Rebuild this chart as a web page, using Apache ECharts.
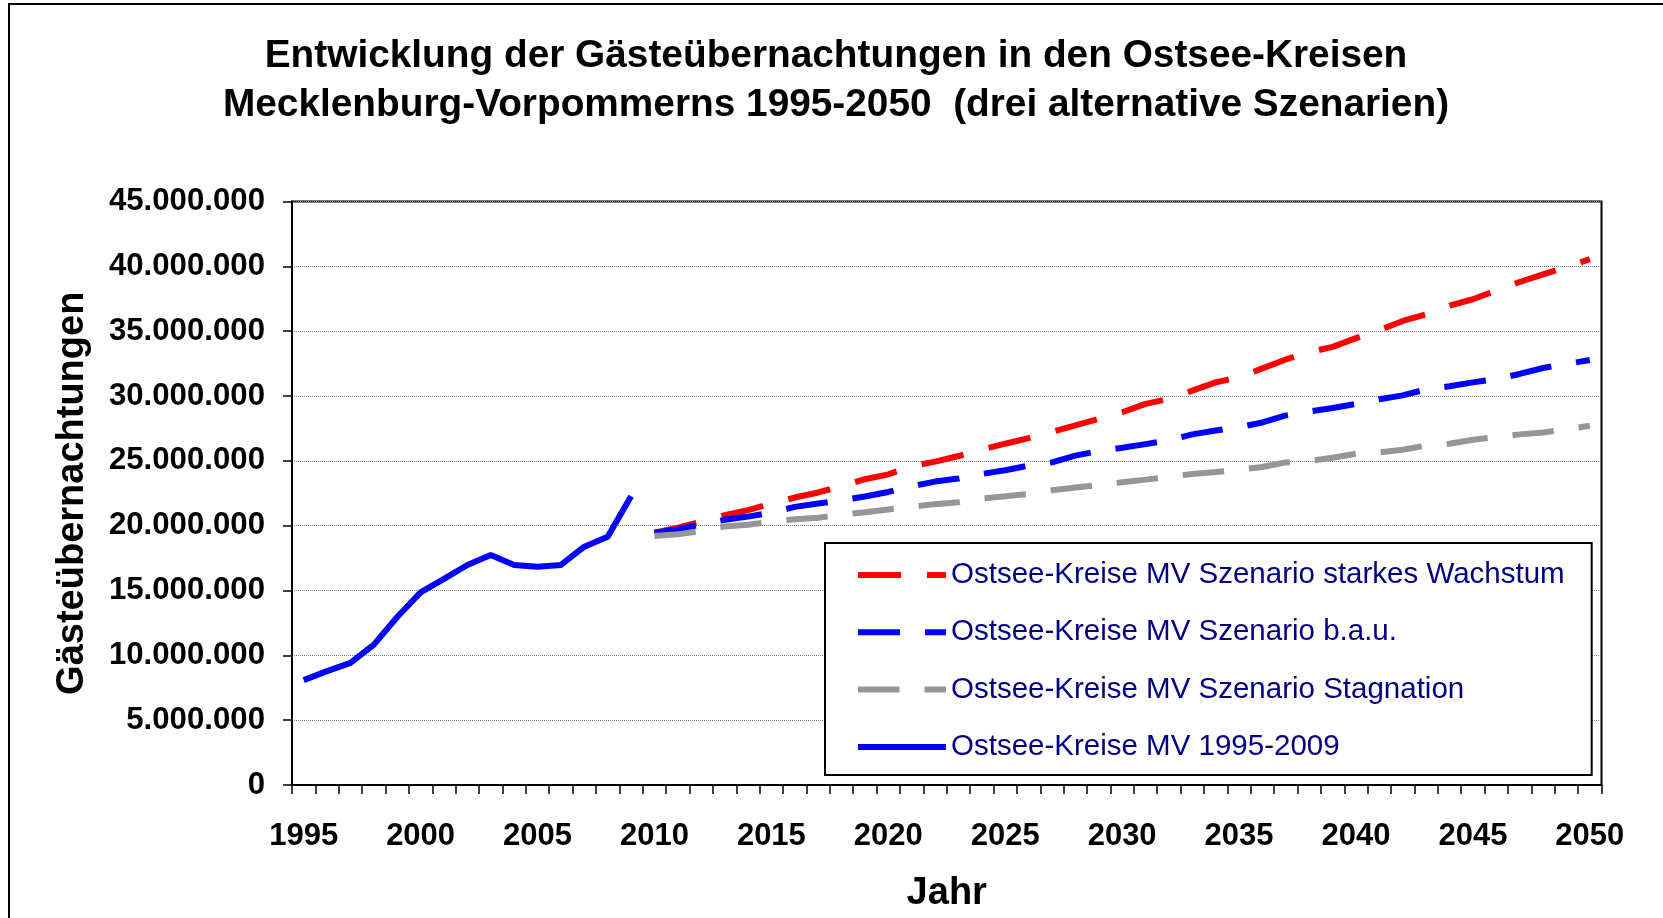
<!DOCTYPE html>
<html>
<head>
<meta charset="utf-8">
<title>Gästeübernachtungen Ostsee-Kreise MV</title>
<script src="https://cdn.jsdelivr.net/npm/echarts@6/dist/echarts.min.js"></script>
<style>
  html, body { margin: 0; padding: 0; background: #fff; }
  #chart { width: 1663px; height: 918px; }
</style>
</head>
<body>
<div id="chart"></div>
<script>
// Jahre (Kategorien)
var years = ['1995', '1996', '1997', '1998', '1999', '2000', '2001', '2002', '2003', '2004',
  '2005', '2006', '2007', '2008', '2009', '2010', '2011', '2012', '2013', '2014',
  '2015', '2016', '2017', '2018', '2019', '2020', '2021', '2022', '2023', '2024',
  '2025', '2026', '2027', '2028', '2029', '2030', '2031', '2032', '2033', '2034',
  '2035', '2036', '2037', '2038', '2039', '2040', '2041', '2042', '2043', '2044',
  '2045', '2046', '2047', '2048', '2049', '2050']

// Ist-Werte 1995-2009
var istWerte = [8090000, 8780000, 9420000, 10830000, 12960000, 14850000, 15900000, 16970000,
  17740000, 16970000, 16840000, 16970000, 18380000, 19150000, 22270000]

// Szenarien 2010-2050
var starkesWachstum = [19450000, 19840000, 20300000, 20810000, 21200000, 21700000, 22170000,
  22560000, 23050000, 23580000, 23960000, 24580000, 24940000, 25370000, 25860000, 26320000,
  26750000, 27240000, 27730000, 28240000, 28750000, 29390000, 29780000, 30410000, 31050000,
  31440000, 32130000, 32820000, 33380000, 33790000, 34460000, 35080000, 35790000, 36300000,
  36970000, 37460000, 38150000, 38790000, 39380000, 39940000, 40550000]
var bau = [19450000, 19710000, 20100000, 20450000, 20700000, 21000000, 21450000, 21710000,
  21950000, 22250000, 22600000, 23040000, 23400000, 23630000, 23990000, 24270000, 24630000,
  24880000, 25400000, 25750000, 26010000, 26290000, 26570000, 27040000, 27340000, 27600000,
  27960000, 28500000, 28800000, 29080000, 29390000, 29750000, 30050000, 30510000, 30750000,
  31050000, 31310000, 31700000, 32160000, 32470000, 32770000]
var stagnation = [19200000, 19330000, 19600000, 19940000, 20070000, 20300000, 20500000, 20610000,
  20850000, 21040000, 21250000, 21450000, 21660000, 21810000, 22100000, 22270000, 22450000,
  22730000, 22940000, 23140000, 23350000, 23550000, 23760000, 23990000, 24140000, 24320000,
  24520000, 24880000, 24990000, 25240000, 25550000, 25650000, 25860000, 26170000, 26320000,
  26630000, 26830000, 27040000, 27190000, 27440000, 27700000]

var seriesNames = [
  'Ostsee-Kreise MV Szenario starkes Wachstum',
  'Ostsee-Kreise MV Szenario b.a.u.',
  'Ostsee-Kreise MV Szenario Stagnation',
  'Ostsee-Kreise MV 1995-2009'
]

var leer = new Array(15).fill(null)
var font = 'Liberation Sans, Arial, Helvetica, sans-serif'

function tausender(v) {
  return String(v).replace(/\B(?=(\d{3})+(?!\d))/g, '.')
}

var chart = echarts.init(document.getElementById('chart'))
chart.setOption({
  animation: false,
  backgroundColor: '#fff',
  textStyle: { fontFamily: font },
  graphic: [{
    type: 'rect',
    shape: { x: 9, y: 4, width: 1700, height: 1000 },
    style: { fill: 'none', stroke: '#000', lineWidth: 2 },
    silent: true
  }],
  title: {
    text: 'Entwicklung der Gästeübernachtungen in den Ostsee-Kreisen\nMecklenburg-Vorpommerns 1995-2050  (drei alternative Szenarien)',
    left: 836,
    top: 32,
    padding: 0,
    textAlign: 'center',
    textStyle: {
      fontFamily: font,
      fontSize: 38.8,
      fontWeight: 'bold',
      color: '#000',
      lineHeight: 49
    }
  },
  legend: {
    orient: 'vertical',
    left: 825,
    top: 543,
    padding: [14, 27, 10, 30],
    itemWidth: 88,
    itemHeight: 14,
    itemGap: 21.3,
    backgroundColor: '#fff',
    borderColor: '#000',
    borderWidth: 2,
    borderRadius: 0,
    data: seriesNames,
    itemStyle: { opacity: 0 },
    lineStyle: { width: 6 },
    textStyle: {
      fontFamily: font,
      fontSize: 29.5,
      color: '#000080',
      lineHeight: 36
    }
  },
  grid: {
    left: 292,
    right: 61.5,
    top: 201.5,
    bottom: 130.5,
    show: true,
    borderColor: '#000',
    borderWidth: 2,
    backgroundColor: 'transparent'
  },
  xAxis: {
    type: 'category',
    data: years,
    boundaryGap: true,
    name: 'Jahr',
    nameLocation: 'middle',
    nameGap: 90,
    nameTextStyle: { fontFamily: font, fontSize: 38, fontWeight: 'bold', color: '#000' },
    axisLine: { lineStyle: { color: '#000', width: 2 } },
    axisTick: { show: true, interval: 0, length: 9, lineStyle: { color: '#000', width: 1.5 } },
    axisLabel: {
      interval: 4,
      margin: 36,
      fontFamily: font,
      fontSize: 31,
      fontWeight: 'bold',
      color: '#000'
    },
    splitLine: { show: false }
  },
  yAxis: {
    type: 'value',
    min: 0,
    max: 45000000,
    interval: 5000000,
    name: 'Gästeübernachtungen',
    nameLocation: 'middle',
    nameGap: 200,
    nameTextStyle: { fontFamily: font, fontSize: 38, fontWeight: 'bold', color: '#000' },
    axisLine: { show: true, lineStyle: { color: '#000', width: 2 } },
    axisTick: { show: true, length: 9, lineStyle: { color: '#000', width: 1.5 } },
    axisLabel: {
      margin: 27,
      fontFamily: font,
      fontSize: 31.2,
      fontWeight: 'bold',
      color: '#000',
      formatter: tausender
    },
    splitLine: { show: true, lineStyle: { color: '#808080', type: 'dotted', width: 1 } }
  },
  series: [
    {
      name: seriesNames[0],
      type: 'line',
      data: leer.concat(starkesWachstum),
      symbol: 'none',
      lineStyle: { color: '#ff0000', width: 6, type: [43, 26] },
      itemStyle: { color: '#ff0000' }
    },
    {
      name: seriesNames[1],
      type: 'line',
      data: leer.concat(bau),
      symbol: 'none',
      lineStyle: { color: '#0000ff', width: 6, type: [42, 25] },
      itemStyle: { color: '#0000ff' }
    },
    {
      name: seriesNames[2],
      type: 'line',
      data: leer.concat(stagnation),
      symbol: 'none',
      lineStyle: { color: '#969696', width: 6, type: [41.5, 25] },
      itemStyle: { color: '#969696' }
    },
    {
      name: seriesNames[3],
      type: 'line',
      data: istWerte,
      symbol: 'none',
      lineStyle: { color: '#0000ff', width: 6 },
      itemStyle: { color: '#0000ff' }
    }
  ]
})
</script>
</body>
</html>
